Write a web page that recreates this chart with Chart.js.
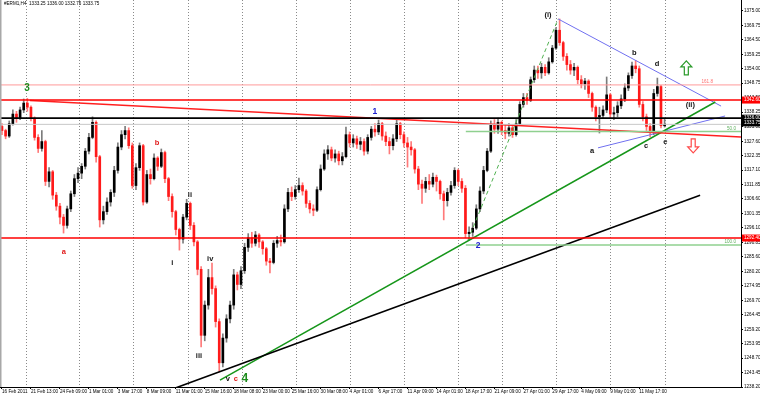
<!DOCTYPE html>
<html>
<head>
<meta charset="utf-8">
<script src="https://cdn.jsdelivr.net/npm/chart.js@4.4.0/dist/chart.umd.min.js"></script>
<style>
  html, body { margin: 0; padding: 0; background: #fff; }
  #wrap { position: relative; width: 760px; height: 397px; }
</style>
</head>
<body>
<div id="wrap"><canvas id="chart" width="760" height="397"></canvas></div>
<script>
// #ERM1 H4, 16 Feb - 13 May 2011 (one candle here = two H4 bars)
const opens = [
  1333, 1331.5, 1329.5, 1334, 1337.5, 1336, 1339, 1341.5, 1340, 1336,
  1329, 1325, 1327.5, 1313, 1316.5, 1308, 1304, 1300, 1297, 1303,
  1308.5, 1314, 1316, 1318.5, 1324, 1329, 1334.5, 1322, 1299, 1302,
  1305.5, 1309, 1317, 1325.5, 1330, 1331.5, 1326, 1311.5, 1318, 1326,
  1305.5, 1315.5, 1314, 1321.5, 1318.5, 1323.5, 1314, 1307.5, 1302, 1295.5,
  1292, 1300, 1305, 1297, 1291, 1281, 1257, 1268, 1278, 1274,
  1262, 1247, 1256, 1263, 1268, 1279, 1275.5, 1280.5, 1289, 1292.5,
  1290.5, 1293.5, 1291, 1288.5, 1284, 1283.5, 1290.5, 1291.5, 1291, 1303,
  1309, 1307.5, 1310, 1311.5, 1309.5, 1305, 1303, 1302.5, 1310, 1317.5,
  1323, 1324.5, 1321.5, 1323, 1320.5, 1322, 1330, 1327, 1328.5, 1326.5,
  1327.5, 1324, 1329, 1332, 1331, 1334, 1329.5, 1327.5, 1326, 1328.5,
  1334, 1330, 1327, 1325.5, 1324.5, 1317.5, 1312, 1310.5, 1313, 1312,
  1314.5, 1313, 1308.5, 1306, 1309, 1311.5, 1317, 1313, 1310.5, 1294,
  1294.5, 1296, 1303, 1309.5, 1317, 1324, 1333.5, 1332, 1334.5, 1331.5,
  1330.5, 1332.5, 1330, 1334, 1341, 1343.5, 1342.5, 1350, 1353.5, 1352.5,
  1354.5, 1352.5, 1356.5, 1361.5, 1368, 1363.5, 1358.5, 1355.5, 1353.5, 1354.5,
  1350, 1348.5, 1349.5, 1345, 1340, 1336.5, 1337, 1339, 1344.5, 1337.5,
  1338, 1340.5, 1343, 1347, 1351.5, 1355, 1354, 1341, 1336.5, 1333,
  1331, 1345, 1347.5, 1333.25
];
const highs = [
  1334, 1332, 1335, 1339, 1338.5, 1340, 1343, 1343.2, 1340.5, 1336.5,
  1330, 1331.5, 1328, 1318, 1317, 1309, 1305, 1301, 1304, 1309.5,
  1315.5, 1318, 1319.5, 1325, 1330.5, 1336.5, 1335, 1322.5, 1304, 1307,
  1310, 1318.5, 1327, 1331.5, 1333, 1332.5, 1327, 1319.5, 1327, 1326.5,
  1317, 1317.5, 1323, 1322, 1324.8, 1324, 1314.5, 1308.5, 1302.5, 1296,
  1301, 1306.5, 1305.5, 1298, 1291.5, 1282, 1269.5, 1281, 1283.3, 1275,
  1263, 1257.5, 1264.5, 1269.5, 1281, 1280, 1282, 1290.5, 1294, 1294.5,
  1294.8, 1294, 1291.5, 1289, 1285, 1291.5, 1293, 1293.5, 1304.5, 1310.5,
  1311, 1311.5, 1314.2, 1312.5, 1310, 1306, 1304.5, 1311, 1319, 1324.5,
  1326, 1325.5, 1324.5, 1324, 1323.5, 1332.8, 1331, 1330, 1329.5, 1329,
  1328.5, 1330, 1333, 1334, 1335.3, 1334.5, 1331, 1329, 1330, 1335.3,
  1334.5, 1331, 1329, 1327.5, 1325, 1318.5, 1313.5, 1314.5, 1315.5, 1316,
  1315.3, 1313.5, 1309.5, 1310.5, 1313, 1318, 1317.5, 1314, 1311.5, 1296.5,
  1298, 1304.5, 1311, 1318.5, 1325, 1335, 1335.5, 1336, 1335, 1333.5,
  1334, 1333.5, 1335.5, 1342, 1345, 1345, 1351, 1355, 1355, 1356,
  1355.5, 1358, 1362.5, 1369, 1372.1, 1364, 1359.5, 1357, 1356, 1355,
  1351.5, 1350.5, 1350, 1345.5, 1340.5, 1340, 1340.5, 1351, 1345, 1340,
  1342, 1344.5, 1348.5, 1352.5, 1356.4, 1357, 1355, 1342, 1337.5, 1334,
  1346.5, 1350.6, 1348, 1336
];
const lows = [
  1330, 1328.5, 1329, 1333.5, 1334.5, 1335.5, 1338, 1338.5, 1335, 1328,
  1323.5, 1324, 1311.5, 1311, 1306.5, 1302.5, 1297.5, 1294.2, 1296, 1302,
  1307.5, 1312.5, 1314, 1317.5, 1323, 1328.5, 1320, 1296.4, 1297.5, 1301,
  1304, 1307.5, 1316, 1324.5, 1328.5, 1325, 1310.5, 1310, 1317, 1304.4,
  1305, 1312, 1313.5, 1317, 1318, 1312.5, 1306, 1300, 1293.5, 1288,
  1290.5, 1299, 1295.5, 1289.5, 1279, 1252.8, 1255, 1266.5, 1272, 1260,
  1243.7, 1245.5, 1254.5, 1261.5, 1266.5, 1273.5, 1274, 1279.5, 1287.5, 1289,
  1289.5, 1289, 1286.5, 1282.5, 1279.7, 1283, 1289, 1289.5, 1290.5, 1302,
  1306, 1306.5, 1309, 1308, 1303.5, 1301.5, 1300.5, 1302, 1309.5, 1317,
  1321, 1320.5, 1320, 1319, 1319, 1321.5, 1325.5, 1325.5, 1325, 1324.5,
  1322.5, 1323, 1328, 1329.5, 1330, 1328, 1326, 1323, 1324.5, 1327.5,
  1328.5, 1325.5, 1318.2, 1322.5, 1316, 1310, 1305, 1309, 1310, 1311,
  1309.5, 1306.5, 1299, 1304, 1308, 1310.5, 1311.5, 1309, 1292.5, 1291.7,
  1293, 1295.5, 1302, 1308.5, 1316.5, 1323.5, 1330.5, 1330.5, 1330, 1328.5,
  1329.5, 1329, 1329.5, 1333.5, 1340, 1341, 1342, 1349, 1350.5, 1350.5,
  1351.5, 1352, 1356, 1361, 1362.5, 1357, 1353.5, 1352, 1351.5, 1348.5,
  1347, 1346.5, 1343.5, 1338.5, 1335, 1330.6, 1336, 1338, 1336, 1335.5,
  1336.5, 1339.5, 1342, 1346, 1350.5, 1352.5, 1340, 1335, 1331.5, 1329.2,
  1330, 1344, 1332.5, 1332.75
];
const closes = [
  1331.5, 1329.5, 1334, 1337.5, 1336, 1339, 1341.5, 1340, 1336, 1329,
  1325, 1327.5, 1313, 1316.5, 1308, 1304, 1300, 1297, 1303, 1308.5,
  1314, 1316, 1318.5, 1324, 1329, 1334.5, 1322, 1299, 1302, 1305.5,
  1309, 1317, 1325.5, 1330, 1331.5, 1326, 1311.5, 1318, 1326, 1305.5,
  1315.5, 1314, 1321.5, 1318.5, 1323.5, 1314, 1307.5, 1302, 1295.5, 1292,
  1300, 1305, 1297, 1291, 1281, 1257, 1268, 1278, 1274, 1262,
  1247, 1256, 1263, 1268, 1279, 1275.5, 1280.5, 1289, 1292.5, 1290.5,
  1293.5, 1291, 1288.5, 1284, 1283.5, 1290.5, 1291.5, 1291, 1303, 1309,
  1307.5, 1310, 1311.5, 1309.5, 1305, 1303, 1302.5, 1310, 1317.5, 1323,
  1324.5, 1321.5, 1323, 1320.5, 1322, 1330, 1327, 1328.5, 1326.5, 1327.5,
  1324, 1329, 1332, 1331, 1334, 1329.5, 1327.5, 1326, 1328.5, 1334,
  1330, 1327, 1325.5, 1324.5, 1317.5, 1312, 1310.5, 1313, 1312, 1314.5,
  1313, 1308.5, 1306, 1309, 1311.5, 1317, 1313, 1310.5, 1294, 1294.5,
  1296, 1303, 1309.5, 1317, 1324, 1333.5, 1332, 1334.5, 1331.5, 1330.5,
  1332.5, 1330, 1334, 1341, 1343.5, 1342.5, 1350, 1353.5, 1352.5, 1354.5,
  1352.5, 1356.5, 1361.5, 1368, 1363.5, 1358.5, 1355.5, 1353.5, 1354.5, 1350,
  1348.5, 1349.5, 1345, 1340, 1336.5, 1337, 1339, 1344.5, 1337.5, 1338,
  1340.5, 1343, 1347, 1351.5, 1355, 1354, 1341, 1336.5, 1333, 1331,
  1345, 1347.5, 1333.25, 1333.75
];

// time axis labels (candle index -> text) and weekly grid lines
const labelIdx = [0, 8, 16, 24, 32, 40, 48, 56, 64, 72, 80, 88, 96, 104, 112, 120, 128, 136, 144, 152, 160, 168, 176];
const timeLabels = [
  '16 Feb 2011', '21 Feb 13:00', '24 Feb 09:00', '1 Mar 01:00', '3 Mar 17:00', '8 Mar 09:00',
  '11 Mar 01:00', '15 Mar 16:00', '18 Mar 08:00', '23 Mar 00:00', '25 Mar 16:00', '30 Mar 08:00',
  '4 Apr 01:00', '6 Apr 17:00', '11 Apr 09:00', '14 Apr 01:00', '18 Apr 17:00', '21 Apr 09:00',
  '27 Apr 01:00', '29 Apr 17:00', '4 May 09:00', '9 May 01:00', '11 May 17:00'
];
const weekGrid = [6.6, 21.3, 36.2, 51.4, 66.3, 81.2, 96.1, 111.0, 126.0, 138.1, 153.0, 168.0, 183.2];

// price axis
const yTicks = [
  1375.00, 1369.75, 1364.50, 1359.25, 1354.00, 1348.75, 1343.50, 1338.25, 1333.00,
  1327.60, 1322.35, 1317.10, 1311.85, 1306.60, 1301.35, 1296.10, 1290.85, 1285.60,
  1280.20, 1274.95, 1269.70, 1264.45, 1259.20, 1253.95, 1248.70, 1243.45, 1238.20
];
const yMin = 1238.2, yMax = 1379.0;
const xMin = -0.55, xMax = 204.1;

// drawn objects: horizontal levels and trend lines (index, price)
const redLevels = [1342.60, 1292.40];
const blackLevel = 1336.00;
const bidLevel = 1333.75;
const fibLevels = [1348.1, 1331.2, 1289.9];
const fibTexts = ['161.8', '50.0', '100.0'];
const fibStart = [xMin, 128.1, 128.1];
const redTrend = [[7.7, 1342.43], [204.1, 1329.2]];
const greenTrend = [[60.2, 1240.7], [197.0, 1341.9]];
const blackTrend = [[47.8, 1237.8], [192.8, 1308.0]];
const blueUpper = [[153.6, 1372.1], [198.6, 1340.4]];
const blueLower = [[164.6, 1325.2], [199.7, 1336.8]];
const waveDash = [[128.7, 1291.7], [153.6, 1372.1]];

// wave count labels: text, index, price, style
const waveMarks = [
  ['3', 6.9, 1347.0, 'green'], ['1', 103.0, 1338.3, 'blue'], ['2', 131.5, 1289.5, 'blue'],
  ['(i)', 150.8, 1373.5, 'black'], ['b', 174.6, 1359.7, 'black'], ['d', 180.9, 1355.7, 'black'],
  ['(ii)', 190.1, 1340.8, 'black'], ['a', 163.0, 1324.1, 'black'], ['c', 177.9, 1325.9, 'black'],
  ['e', 183.2, 1327.3, 'black'], ['a', 17.1, 1287.3, 'red'], ['b', 42.8, 1327.0, 'red'],
  ['ii', 51.9, 1308.0, 'black'], ['i', 47.0, 1283.3, 'black'], ['iv', 57.5, 1284.8, 'black'],
  ['iii', 54.4, 1249.5, 'black'], ['v', 62.4, 1241.1, 'black'], ['c', 64.6, 1241.1, 'red'],
  ['4', 67.1, 1241.1, 'big']
];
const upArrow = [189.0, 1354.3];
const downArrow = [190.9, 1325.9];

const markStyle = {
  green: ['#1e8c1e', 'bold 10px "Liberation Sans"'],
  big: ['#1e8c1e', 'bold 12px "Liberation Sans"'],
  blue: ['#2020d0', 'bold 8.5px "Liberation Sans"'],
  black: ['#111', 'bold 7.5px "Liberation Sans"'],
  red: ['#e01818', 'bold 7.5px "Liberation Sans"']
};

const tinyFont = { family: '"Liberation Sans", Arial, sans-serif', size: 4.6 };

function seg(points, color, width, dash) {
  return {
    type: 'line',
    data: points.map(p => ({ x: p[0], y: p[1] })),
    borderColor: color,
    borderWidth: width,
    borderDash: dash || [],
    pointRadius: 0,
    fill: false,
    tension: 0,
    order: 0
  };
}

const isUp = closes.map((c, i) => c >= opens[i]);

const datasets = [
  {
    type: 'bar',
    data: opens.map((o, i) => ({ x: i, y: [o, closes[i]] })),
    backgroundColor: isUp.map(u => u ? '#000000' : '#ff1a1a'),
    borderWidth: 0,
    barThickness: 2,
    minBarLength: 1,
    grouped: false,
    order: 1
  },
  {
    type: 'bar',
    data: lows.map((l, i) => ({ x: i, y: [l, highs[i]] })),
    backgroundColor: isUp.map(u => u ? '#7c7c7c' : '#ff7a7a'),
    borderWidth: 0,
    barThickness: 1,
    grouped: false,
    order: 2
  },
  seg([[xMin, bidLevel], [xMax, bidLevel]], '#c8c8c8', 1),
  seg([[xMin, fibLevels[0]], [xMax, fibLevels[0]]], '#ff9a9a', 1),
  seg([[fibStart[1], fibLevels[1]], [xMax, fibLevels[1]]], '#8fd08f', 1.5),
  seg([[fibStart[2], fibLevels[2]], [xMax, fibLevels[2]]], '#8fd08f', 1.5),
  seg([[xMin, redLevels[0]], [xMax, redLevels[0]]], '#ff0000', 1.6),
  seg([[xMin, redLevels[1]], [xMax, redLevels[1]]], '#ff0000', 1.6),
  seg([[xMin, blackLevel], [xMax, blackLevel]], '#000000', 1.8),
  seg(redTrend, '#ff2020', 1.5),
  seg(blackTrend, '#000000', 1.6),
  seg(greenTrend, '#16961a', 1.5),
  seg(blueUpper, '#7070f0', 1),
  seg(blueLower, '#7070f0', 1),
  seg(waveDash, '#50b050', 1, [4, 3])
];

const mtPlugin = {
  id: 'mt',
  beforeDatasetsDraw(chart) {
    const { ctx, chartArea: a, scales: { x } } = chart;
    ctx.save();
    ctx.strokeStyle = '#8a8a8a';
    ctx.lineWidth = 1;
    ctx.setLineDash([1, 2]);
    weekGrid.forEach(v => {
      const px = Math.round(x.getPixelForValue(v)) + 0.5;
      ctx.beginPath();
      ctx.moveTo(px, a.top);
      ctx.lineTo(px, a.bottom);
      ctx.stroke();
    });
    ctx.restore();
  },
  afterDatasetsDraw(chart) {
    const { ctx, chartArea: a, scales: { x, y } } = chart;
    ctx.save();
    // fibo level captions
    ctx.font = '4.6px "Liberation Sans"';
    ctx.textAlign = 'right';
    ctx.textBaseline = 'bottom';
    fibTexts.forEach((t, i) => {
      ctx.fillStyle = i === 0 ? '#ff7070' : '#5fb05f';
      ctx.fillText(t, i === 0 ? a.right - 28 : a.right - 5, y.getPixelForValue(fibLevels[i]) - 0.5);
    });
    // wave labels
    ctx.textAlign = 'center';
    ctx.textBaseline = 'middle';
    waveMarks.forEach(m => {
      const st = markStyle[m[3]];
      ctx.fillStyle = st[0];
      ctx.font = st[1];
      ctx.fillText(m[0], x.getPixelForValue(m[1]), y.getPixelForValue(m[2]));
    });
    // hollow arrows
    const arrow = (pt, dir, color) => {
      const cx = x.getPixelForValue(pt[0]);
      const cy = y.getPixelForValue(pt[1]);
      const h = 7 * dir;
      ctx.beginPath();
      ctx.moveTo(cx, cy - h);
      ctx.lineTo(cx + 5.5, cy - h + 6 * dir);
      ctx.lineTo(cx + 2, cy - h + 6 * dir);
      ctx.lineTo(cx + 2, cy + h);
      ctx.lineTo(cx - 2, cy + h);
      ctx.lineTo(cx - 2, cy - h + 6 * dir);
      ctx.lineTo(cx - 5.5, cy - h + 6 * dir);
      ctx.closePath();
      ctx.strokeStyle = color;
      ctx.lineWidth = 1.2;
      ctx.stroke();
    };
    arrow(upArrow, 1, '#2a9a2a');
    arrow(downArrow, -1, '#ff4a4a');
    ctx.restore();
  },
  afterDraw(chart) {
    const { ctx, chartArea: a, scales: { y } } = chart;
    ctx.save();
    // price tags on the axis
    const tag = (v, bg, dy) => {
      const py = y.getPixelForValue(v) + (dy || 0);
      ctx.fillStyle = bg;
      ctx.fillRect(a.right + 1, py - 3.5, 19, 7);
      ctx.fillStyle = '#fff';
      ctx.font = '4.6px "Liberation Sans"';
      ctx.textAlign = 'left';
      ctx.textBaseline = 'middle';
      ctx.fillText(v.toFixed(2), a.right + 3, py);
    };
    tag(redLevels[0], '#ff0000');
    tag(redLevels[1], '#ff0000');
    tag(blackLevel, '#000000');
    tag(bidLevel, '#000000', -1.5);
    // header line
    const n = closes.length - 1;
    ctx.fillStyle = '#000';
    ctx.font = '4.6px "Liberation Sans"';
    ctx.textAlign = 'left';
    ctx.textBaseline = 'middle';
    ctx.fillText('#ERM1,H4  ' + [opens[n], highs[n], lows[n], closes[n]].map(v => v.toFixed(2)).join(' '), 4, 4);
    // window frame on the left
    ctx.fillStyle = '#a8a8a8';
    ctx.fillRect(0, 0, 1.5, a.bottom);
    ctx.restore();
  }
};

new Chart(document.getElementById('chart'), {
  type: 'bar',
  data: { datasets },
  plugins: [mtPlugin],
  options: {
    responsive: false,
    animation: false,
    devicePixelRatio: 1,
    layout: { padding: 0 },
    plugins: { legend: { display: false }, tooltip: { enabled: false } },
    scales: {
      x: {
        type: 'linear',
        min: xMin,
        max: xMax,
        offset: false,
        grid: { offset: false, drawOnChartArea: false, drawTicks: true, tickLength: 2, color: '#000' },
        border: { color: '#000', width: 1 },
        ticks: {
          autoSkip: false,
          maxRotation: 0,
          align: 'start',
          padding: 0,
          color: '#000',
          font: tinyFont,
          callback: v => {
            const k = labelIdx.indexOf(v);
            return k < 0 ? '' : timeLabels[k];
          }
        },
        afterBuildTicks: s => { s.ticks = labelIdx.map(v => ({ value: v })); },
        afterFit: s => { s.height = 10; s.paddingLeft = 0; s.paddingRight = 0; }
      },
      y: {
        position: 'right',
        min: yMin,
        max: yMax,
        grid: { drawOnChartArea: false, drawTicks: true, tickLength: 2, color: '#000' },
        border: { color: '#000', width: 1 },
        ticks: {
          autoSkip: false,
          padding: 1,
          color: '#000',
          font: tinyFont,
          callback: v => v.toFixed(2)
        },
        afterBuildTicks: s => { s.ticks = yTicks.map(v => ({ value: v })); },
        afterFit: s => { s.width = 19; s.paddingTop = 0; s.paddingBottom = 0; }
      }
    }
  }
});
</script>
</body>
</html>
